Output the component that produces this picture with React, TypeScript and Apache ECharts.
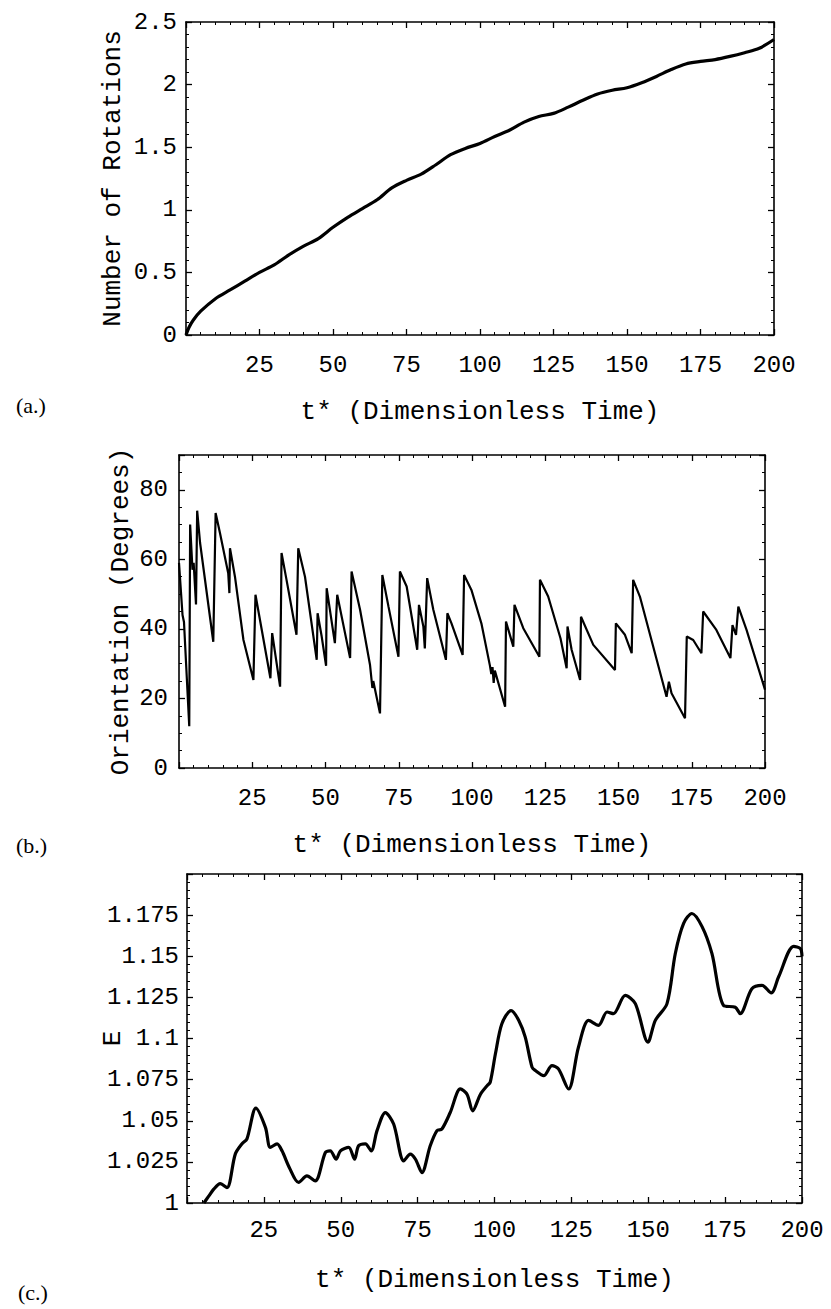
import React, { useEffect, useRef } from "react";
import * as echarts from "echarts";

// (a) Number of rotations vs dimensionless time
const rotT = [0, 1, 2.5, 5, 10, 15, 20, 25, 30, 35, 40, 45, 50, 55, 60, 65, 70, 75, 80, 85, 90, 95, 100, 105, 110, 115, 120, 125, 130, 135, 140, 145, 150, 155, 160, 165, 170, 175, 180, 185, 190, 195, 200];
const rotV = [0, 0.06, 0.12, 0.19, 0.29, 0.36, 0.43, 0.5, 0.56, 0.64, 0.71, 0.77, 0.86, 0.94, 1.01, 1.08, 1.175, 1.235, 1.285, 1.36, 1.44, 1.49, 1.53, 1.585, 1.635, 1.7, 1.745, 1.77, 1.82, 1.875, 1.925, 1.955, 1.975, 2.015, 2.065, 2.12, 2.165, 2.185, 2.2, 2.225, 2.255, 2.29, 2.36];

// (b) Orientation (degrees) vs dimensionless time
const oriT = [0, 1.2, 1.7, 3.5, 3.8, 4.6, 5.0, 5.8, 6.2, 7.2, 11.7, 12.5, 14, 16.8, 17.2, 17.4, 19.1, 22, 25.4, 26.1, 31.2, 31.8, 34.5, 35, 36.7, 40.1, 40.7, 43, 47, 47.3, 48.7, 50.2, 50.4, 53.2, 54, 58.4, 58.9, 61.8, 65.2, 66.0, 66.3, 68.6, 69.4, 71.5, 74.9, 75.4, 77.7, 81.3, 81.9, 83.4, 83.9, 84.7, 86.8, 91.1, 91.6, 93, 96.8, 97.3, 99.8, 103.2, 106.1, 106.6, 107.0, 107.4, 107.8, 111.3, 111.6, 114.1, 114.5, 117.5, 123, 123.2, 126, 130.2, 132.3, 132.6, 134, 136.9, 137.2, 141.4, 148.8, 149.1, 152.2, 154.5, 155, 157.3, 166.4, 167.2, 168.1, 172.7, 173.3, 175.5, 178.3, 178.9, 183.4, 188.2, 188.9, 190.1, 190.9, 193.7, 200];
const oriV = [59, 44, 42, 12, 70, 57, 59, 47, 74, 64.7, 36.3, 73.3, 67.5, 56, 50.3, 63.2, 55, 36.8, 25.3, 49.8, 25.8, 38.8, 23.4, 61.8, 54.1, 38.3, 63.2, 55, 31.1, 44.5, 37.8, 29.4, 51.7, 35.9, 49.8, 31.6, 56.5, 45.5, 29.6, 23, 25, 15.7, 55.5, 46.4, 32, 56.5, 52.2, 34, 46.9, 40.7, 34.4, 54.6, 45.5, 31.1, 44.5, 41.6, 32.5, 55.5, 51.2, 41.6, 29.5, 27, 29, 24.5, 28, 17.6, 42.1, 34.9, 46.9, 40.2, 32, 54.1, 49.3, 37.3, 28.7, 40.7, 34, 25.3, 43.5, 35.4, 28.2, 41.6, 38.3, 33, 54.1, 49.3, 20.5, 24.8, 21.5, 14.3, 37.8, 36.8, 33, 45, 39.7, 31.6, 41.1, 38.3, 46.4, 39.7, 22.5];

// (c) E vs dimensionless time
const enT = [5.5, 7, 8.7, 10.8, 13, 15.7, 17.9, 19.5, 22.4, 25.5, 27.1, 29.3, 30.9, 33.3, 36.3, 39, 41.7, 45, 46.6, 48.5, 49.9, 52.6, 54.5, 55.8, 58, 59.9, 61.8, 64.5, 67.2, 70.5, 72.6, 74.3, 76.4, 79.1, 81.3, 82.9, 85.6, 88.9, 91.1, 92.9, 95.4, 97.6, 98.6, 100.3, 102.4, 105.4, 107.9, 110, 112.2, 113.3, 116, 118.7, 120.8, 124.1, 127.3, 130.6, 133.8, 136.6, 138.7, 142.5, 145.8, 149.9, 152.3, 156.1, 158.8, 161.5, 164.2, 167.5, 170.7, 174.5, 178.3, 179.9, 183.7, 187, 190, 192.4, 197.3, 199.5, 200];
const enV = [1.0, 1.004, 1.0084, 1.0118, 1.0093, 1.0297, 1.036, 1.039, 1.0577, 1.046, 1.0338, 1.036, 1.0317, 1.0215, 1.0125, 1.0165, 1.0134, 1.0307, 1.0317, 1.0266, 1.0317, 1.0338, 1.0266, 1.0348, 1.036, 1.0317, 1.044, 1.055, 1.048, 1.0256, 1.0297, 1.0266, 1.0185, 1.0348, 1.044, 1.045, 1.055, 1.0694, 1.066, 1.056, 1.066, 1.0713, 1.0734, 1.0907, 1.109, 1.117, 1.111, 1.1008, 1.0826, 1.0805, 1.0774, 1.0835, 1.0815, 1.0693, 1.0947, 1.111, 1.108, 1.1161, 1.1151, 1.1262, 1.1212, 1.0978, 1.111, 1.1212, 1.1517, 1.17, 1.176, 1.168, 1.1517, 1.12, 1.119, 1.1151, 1.1303, 1.1323, 1.1277, 1.1375, 1.156, 1.1546, 1.15];

const xTitle = "t* (Dimensionless Time)";
const yTitles = ["Number of Rotations", "Orientation (Degrees)", "E"];
const panelTags = ["(a.)", "(b.)", "(c.)"];

const MONO = "'Liberation Mono', 'DejaVu Sans Mono', monospace";

function pairs(t: number[], v: number[]) {
  return t.map((x, i) => [x, v[i]]);
}

export default function App() {
  const ref = useRef<HTMLDivElement>(null);
  useEffect(() => {
    const chart = echarts.init(ref.current!, null, { renderer: "svg" });
    const grids = [
      { left: 186, top: 22, width: 588, height: 313 },
      { left: 179, top: 455, width: 586, height: 313 },
      { left: 187, top: 874, width: 615, height: 329 },
    ];
    const frame = {
      axisLine: { show: true, onZero: false, lineStyle: { color: "#000", width: 1.6 } },
      axisTick: { show: true, inside: true, length: 6, lineStyle: { color: "#000", width: 1.3 } },
      splitLine: { show: false },
      minorSplitLine: { show: false },
    };
    const labelStyle = { color: "#000", fontFamily: MONO, fontSize: 24 };
    const nameStyle = { color: "#000", fontFamily: MONO, fontSize: 26 };

    const xAxis: any[] = [];
    const yAxis: any[] = [];
    const xMargins = [18, 18, 15];
    const yCfg = [
      { min: 0, max: 2.5, interval: 0.5, minor: 5, margin: 9, gap: 60, fmt: (v: number) => String(v) },
      { min: 0, max: 90, interval: 20, minor: 4, margin: 11, gap: 45, fmt: (v: number) => (v % 20 === 0 ? String(v) : "") },
      { min: 1, max: 1.2, interval: 0.025, minor: 5, margin: 8, gap: 61, fmt: (v: number) => (Math.abs(v - 1.2) < 1e-9 ? "" : String(+v.toFixed(3))) },
    ];
    grids.forEach((_, gi) => {
      xAxis.push({
        type: "value", gridIndex: gi, position: "bottom", min: 0, max: 200, interval: 25,
        ...frame,
        minorTick: { show: true, splitNumber: 5, length: 3, lineStyle: { color: "#000", width: 1 } },
        axisLabel: { ...labelStyle, margin: xMargins[gi], formatter: (v: number) => (v === 0 ? "" : String(v)) },
        name: xTitle, nameLocation: "middle", nameGap: 64, nameTextStyle: nameStyle, nameMoveOverlap: false,
      });
      xAxis.push({
        type: "value", gridIndex: gi, position: "top", min: 0, max: 200, interval: 25,
        ...frame,
        minorTick: { show: true, splitNumber: 5, length: 3, lineStyle: { color: "#000", width: 1 } },
        axisLabel: { show: false },
      });
      const c = yCfg[gi];
      yAxis.push({
        type: "value", gridIndex: gi, position: "left", min: c.min, max: c.max, interval: c.interval,
        ...frame,
        minorTick: { show: true, splitNumber: c.minor, length: 3, lineStyle: { color: "#000", width: 1 } },
        axisLabel: { ...labelStyle, margin: c.margin, formatter: c.fmt },
        name: yTitles[gi], nameLocation: "middle", nameGap: c.gap, nameRotate: 90, nameTextStyle: nameStyle,
        nameMoveOverlap: false,
      });
      yAxis.push({
        type: "value", gridIndex: gi, position: "right", min: c.min, max: c.max, interval: c.interval,
        ...frame,
        minorTick: { show: true, splitNumber: c.minor, length: 3, lineStyle: { color: "#000", width: 1 } },
        axisLabel: { show: false },
      });
    });

    chart.setOption({
      animation: false,
      backgroundColor: "#fff",
      grid: grids,
      xAxis,
      yAxis,
      series: [
        {
          type: "line", xAxisIndex: 0, yAxisIndex: 0, data: pairs(rotT, rotV), smooth: 0.3,
          showSymbol: false, lineStyle: { color: "#000", width: 3.2 },
        },
        {
          type: "line", xAxisIndex: 2, yAxisIndex: 2, data: pairs(oriT, oriV), smooth: false,
          showSymbol: false, lineStyle: { color: "#000", width: 2.2 },
        },
        {
          type: "line", xAxisIndex: 4, yAxisIndex: 4, data: pairs(enT, enV), smooth: 0.3,
          showSymbol: false, lineStyle: { color: "#000", width: 3.2 },
        },
      ],
      graphic: [
        { type: "text", x: 16, y: 405, style: { text: panelTags[0], fontFamily: "'Liberation Serif', serif", fontSize: 22, fill: "#000", verticalAlign: "middle" } },
        { type: "text", x: 16, y: 845, style: { text: panelTags[1], fontFamily: "'Liberation Serif', serif", fontSize: 22, fill: "#000", verticalAlign: "middle" } },
        { type: "text", x: 18, y: 1292, style: { text: panelTags[2], fontFamily: "'Liberation Serif', serif", fontSize: 22, fill: "#000", verticalAlign: "middle" } },
      ],
    });
    return () => chart.dispose();
  }, []);
  return (
    <div
      ref={ref}
      style={{ position: "absolute", left: 0, top: 0, width: 831, height: 1309, background: "#fff" }}
    />
  );
}
